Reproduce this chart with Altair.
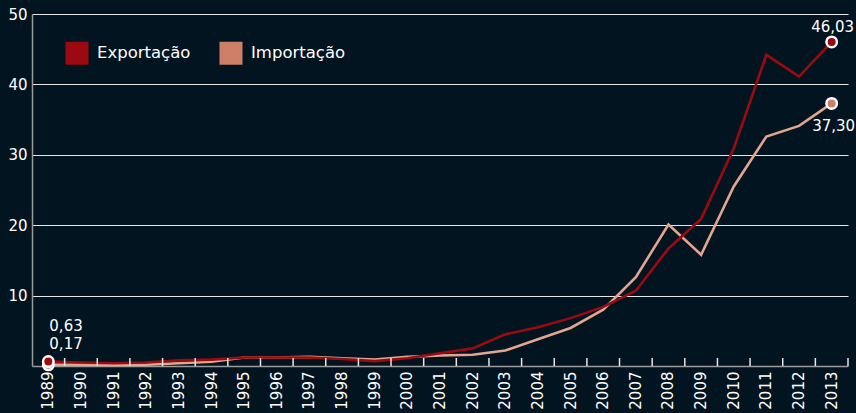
import altair as alt
import pandas as pd

years = list(range(1989, 2014))
exportacao = [0.63, 0.5, 0.4, 0.5, 0.8, 0.9, 1.2, 1.2, 1.2, 1.0, 0.7, 1.1, 1.8, 2.5, 4.5, 5.5,
              6.8, 8.4, 10.7, 16.7, 20.9, 30.9, 44.2, 41.1, 46.03]
importacao = [0.17, 0.2, 0.15, 0.2, 0.4, 0.6, 1.2, 1.2, 1.3, 1.1, 0.9, 1.3, 1.5, 1.6, 2.2, 3.8,
              5.4, 8.0, 12.6, 20.1, 15.8, 25.5, 32.6, 34.1, 37.30]
series_names = ["Exportação", "Importação"]
line_colors = ["#9b0a10", "#e3a58e"]
fill_colors = ["#9b0a10", "#cd7f68"]

rows = []
for y, e, i in zip(years, exportacao, importacao):
    rows.append({"year": y, "value": i, "serie": series_names[1], "order": 0})
    rows.append({"year": y, "value": e, "serie": series_names[0], "order": 1})
df = pd.DataFrame(rows)
ends = df[df["year"].isin([years[0], years[-1]])].copy()
ends["label"] = ends["value"].map(lambda v: f"{v:.2f}".replace(".", ","))

W, H = 816, 352
FONT = "DejaVu Sans"
BG = "#021420"

xscale = alt.Scale(type="band", paddingInner=0, paddingOuter=0)
yscale = alt.Scale(domain=[0, 50], nice=False)

x_axis = alt.Axis(labelAngle=270, labelAlign="right", labelBaseline="middle",
                  labelColor="white", labelFontSize=15, labelFont=FONT,
                  labelPadding=5, ticks=False, domainColor="#9a9a9a",
                  domainWidth=1.5, grid=False, labelOverlap=False)
x_enc = alt.X("year:O", scale=xscale, bandPosition=0.5, title=None, axis=x_axis)
y_enc = alt.Y("value:Q", scale=yscale, title=None,
              axis=alt.Axis(values=[10, 20, 30, 40, 50], grid=True,
                            labelColor="white", labelFontSize=15, labelFont=FONT,
                            labelPadding=5, ticks=False, domainColor="#9a9a9a",
                            domainWidth=1.5, gridColor="#e6e6e6", gridWidth=1))

# series names sort alphabetically in the same order as the colour lists
lines = alt.Chart(df).mark_line(strokeWidth=2.6).encode(
    x=x_enc, y=y_enc,
    stroke=alt.Stroke("serie:N", scale=alt.Scale(range=line_colors), legend=None))

ticks_df = pd.DataFrame({"year": years})
ticks = alt.Chart(ticks_df).mark_rule(color="#e6e6e6", strokeWidth=1.5).encode(
    x=alt.X("year:O", scale=xscale, bandPosition=1, title=None, axis=x_axis),
    y=alt.value(H - 8), y2=alt.value(H))

pts = alt.Chart(ends).mark_point(filled=True, size=110, stroke="white", strokeWidth=2.5,
                                  opacity=1, shape="circle").encode(
    x=alt.X("year:O", scale=xscale, bandPosition=0.5, title=None, axis=x_axis),
    y=alt.Y("value:Q", scale=yscale, title=None),
    order=alt.Order("order:Q"),
    color=alt.Color("serie:N", scale=alt.Scale(domain=series_names, range=fill_colors),
                    legend=alt.Legend(title=None, orient="none", legendX=33, legendY=27,
                                      padding=0,
                                      direction="horizontal", symbolType="square",
                                      symbolSize=530, symbolStrokeWidth=0,
                                      symbolOpacity=1,
                                      labelColor="white", labelFontSize=16.5, labelFont=FONT,
                                      columnPadding=28, labelOffset=8)))

def lbl(year, serie, dx, dy, align):
    d = ends[(ends["year"] == year) & (ends["serie"] == serie)]
    return alt.Chart(d).mark_text(color="white", fontSize=15, font=FONT, dx=dx, dy=dy,
                                  align=align, baseline="middle").encode(
        x=alt.X("year:O", scale=xscale, bandPosition=0.5, title=None, axis=x_axis),
        y=alt.Y("value:Q", scale=yscale, title=None), text="label:N")

labels = [
    lbl(2013, series_names[0], 1, -15, "center"),
    lbl(2013, series_names[1], 2, 23, "center"),
    lbl(1989, series_names[0], 1, -36, "left"),
    lbl(1989, series_names[1], 1, -21, "left"),
]

chart = alt.layer(lines, ticks, pts, *labels).properties(
    width=W, height=H, background=BG,
    padding={"left": 32, "top": 14, "right": 8, "bottom": 47},
    autosize=alt.AutoSizeParams(type="none"),
).configure_view(stroke=None)

chart.save("out.html", embed_options={"renderer": "svg", "actions": False})
